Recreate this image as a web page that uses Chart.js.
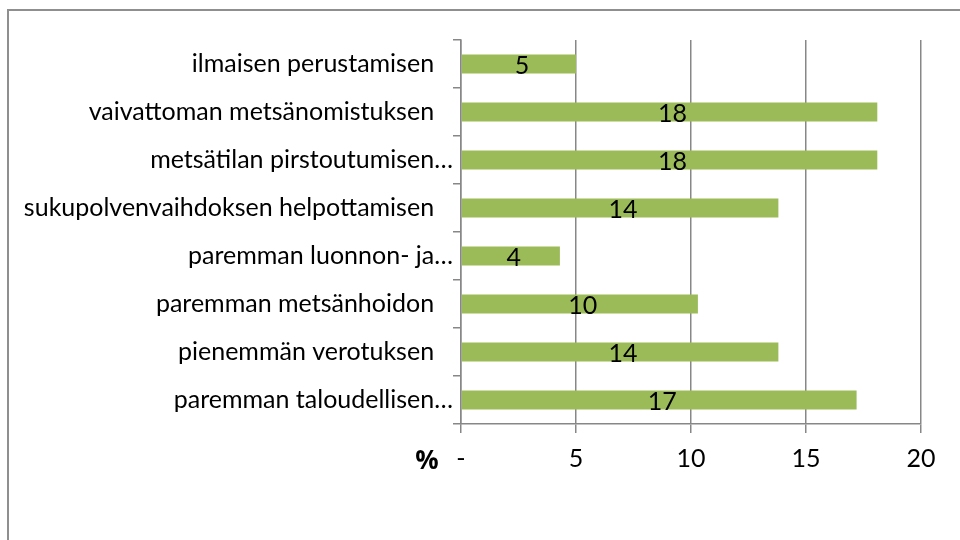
<!DOCTYPE html>
<html>
<head>
<meta charset="utf-8">
<script src="https://cdn.jsdelivr.net/npm/chart.js@4"></script>
<style>
  body { margin: 0; background: #fff; }
  #wrap { position: relative; width: 960px; height: 540px; overflow: hidden; }
  #frame { position: absolute; left: 7px; top: 9px; width: 980px; height: 560px; border: 2px solid #8f8f8f; }
  canvas { position: absolute; left: 0; top: 0; }
</style>
</head>
<body>
<div id="wrap">
  <div id="frame"></div>
  <canvas id="chart" width="960" height="540"></canvas>
</div>
<script>
// kategoriat (ylhäältä alas)
const categories = [
    'ilmaisen perustamisen \u2002',
    'vaivattoman metsänomistuksen \u2002',
    'metsätilan pirstoutumisen…',
    'sukupolvenvaihdoksen helpottamisen \u2002',
    'paremman luonnon- ja…',
    'paremman metsänhoidon \u2002',
    'pienemmän verotuksen \u2002',
    'paremman taloudellisen…'
];
const values = [5.0, 18.1, 18.1, 13.8, 4.3, 10.3, 13.8, 17.2];
const xTicks = [0, 5, 10, 15, 20];

const FONT = 'Lato, "Open Sans", sans-serif';
const GRID = '#878787';

// arvot palkkien keskelle
const valueLabels = {
    id: 'valueLabels',
    afterDatasetsDraw(chart) {
        const ctx = chart.ctx;
        const meta = chart.getDatasetMeta(0);
        ctx.save();
        ctx.font = '25px ' + FONT;
        ctx.fillStyle = '#000';
        ctx.textAlign = 'center';
        ctx.textBaseline = 'middle';
        meta.data.forEach((bar, i) => {
            const cx = (bar.x + bar.base) / 2;
            ctx.fillText(values[i].toFixed(0), cx + 3, bar.y + 2);
        });
        ctx.restore();
    }
};

// "%" akselin vasemmalle puolelle
const percentLabel = {
    id: 'percentLabel',
    afterDraw(chart) {
        const ctx = chart.ctx;
        const area = chart.chartArea;
        ctx.save();
        ctx.font = 'bold 26px "Open Sans", sans-serif';
        ctx.fillStyle = '#000';
        ctx.textAlign = 'center';
        ctx.textBaseline = 'middle';
        ctx.fillText('%', area.left - 34, area.bottom + 38);
        ctx.restore();
    }
};

const ctx = document.getElementById('chart').getContext('2d');

new Chart(ctx, {
    type: 'bar',
    data: {
        labels: categories,
        datasets: [{
            data: values,
            backgroundColor: '#9BBB59',
            borderWidth: 0,
            barPercentage: 0.4,
            categoryPercentage: 1.0
        }]
    },
    options: {
        indexAxis: 'y',
        responsive: false,
        animation: false,
        devicePixelRatio: 1,
        layout: { padding: { top: 40, right: 39, left: 0, bottom: 0 } },
        plugins: {
            legend: { display: false },
            tooltip: { enabled: false }
        },
        scales: {
            x: {
                min: 0,
                max: 20,
                afterBuildTicks: scale => {
                    scale.ticks = xTicks.map(v => ({ value: v }));
                },
                afterFit: scale => { scale.height = 116; },
                ticks: {
                    color: '#000',
                    font: { family: FONT, size: 25 },
                    padding: 11,
                    maxRotation: 0,
                    callback: v => v === 0 ? '-' : v
                },
                grid: {
                    color: GRID,
                    lineWidth: 1.5,
                    tickLength: 9,
                    drawOnChartArea: true
                },
                border: { display: true, color: GRID, width: 1.5 }
            },
            y: {
                afterFit: scale => { scale.width = 461; },
                ticks: {
                    color: '#000',
                    font: { family: FONT, size: 25 },
                    padding: 0,
                    autoSkip: false
                },
                grid: {
                    offset: true,
                    color: GRID,
                    lineWidth: 1.5,
                    tickLength: 8,
                    drawOnChartArea: false
                },
                border: { display: true, color: GRID, width: 1.5 }
            }
        }
    },
    plugins: [valueLabels, percentLabel]
});
</script>
</body>
</html>
